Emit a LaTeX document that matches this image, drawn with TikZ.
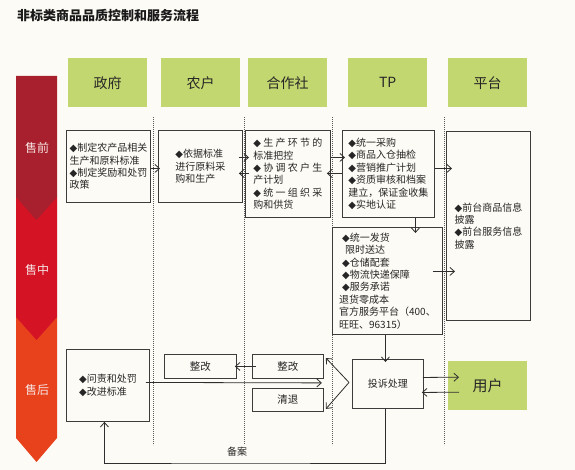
\documentclass[tikz,border=0pt]{standalone}
\usepackage{fontspec}
\setmainfont{Noto Sans CJK SC}
\newfontfamily\djv{DejaVu Sans}
\usetikzlibrary{arrows.meta,calc}
\definecolor{bg}{HTML}{FDFBF5}
\definecolor{boxc}{HTML}{3C3C3C}
\definecolor{linec}{HTML}{2E2E2E}
\definecolor{txt}{HTML}{262626}
\definecolor{green1}{HTML}{C3D770}
\definecolor{dred}{HTML}{A8202D}
\definecolor{red1}{HTML}{D41325}
\definecolor{orng}{HTML}{E8421D}
\definecolor{lbl}{HTML}{F6E4E2}
\newcommand\dm{{\djv ◆}}
\begin{document}
\begin{tikzpicture}[x=1pt,y=-1pt,
  box/.style={draw=boxc, line width=0.9pt, fill=bg, inner sep=0pt, anchor=north west, align=left, font=\fontsize{10}{12.4}\selectfont, text=txt},
  head/.style={fill=green1, anchor=north west, inner sep=0pt, minimum width=79pt, minimum height=49pt, font=\fontsize{14}{16}\selectfont, text=txt},
  arr/.style={draw=linec, line width=0.8pt, -{Straight Barb[length=4.5pt,width=8pt]}},
  lane/.style={draw=black!65, line width=0.6pt, dash pattern=on 0.8pt off 1.2pt},
  band/.style={text=lbl, font=\fontsize{12}{14}\selectfont}]
\fill[bg] (0,0) rectangle (575,470);
\useasboundingbox (0,0) rectangle (575,470);

% title
\node[anchor=west, inner sep=0pt, text=black!90, font=\fontsize{13}{15}\selectfont\bfseries] (title) at (17,16) {非标类商品品质控制和服务流程};

% left band
\fill[orng] (16,317) -- (57,317) -- (57,438) -- (36.5,462) -- (16,438) -- cycle;
\fill[red1] (16,197) -- (57,197) -- (57,317) -- (36.5,340) -- (16,317) -- cycle;
\fill[dred] (16,76) -- (57,76) -- (57,197) -- (36.5,220) -- (16,197) -- cycle;
\node[band] (s1) at (37,148) {售前};
\node[band] (s2) at (37,270) {售中};
\node[band] (s3) at (37,390) {售后};

% headers
\node[head] (h1) at (68,58) {政府};
\node[head] (h2) at (161,58) {农户};
\node[head] (h3) at (248,58) {合作社};
\node[head] (h4) at (348,58) {TP};
\node[head] (h5) at (448,58) {平台};

% lanes
\draw[lane] (153,117) -- (153,445);
\draw[lane] (244,117) -- (244,445);
\draw[lane] (332,117) -- (332,445);
\draw[lane] (444,117) -- (444,445);

% boxes
\node[box, minimum width=84pt, minimum height=72pt] (gov1) at (66,130)
  {\dm 制定农产品相关\\生产和原料标准\\\dm 制定奖励和处罚\\政策};
\node[box, minimum width=84pt, minimum height=72pt] (farm) at (158,130)
  {\dm 依据标准\\进行原料采\\购和生产};
\node[box, minimum width=85pt, minimum height=87pt] (coop) at (245,130)
  {\makebox[69pt][s]{\dm\ 生 产 环 节 的}\\标准把控\\\makebox[69pt][s]{\dm\ 协 调 农 户 生}\\产计划\\\makebox[69pt][s]{\dm\ 统 一 组 织 采}\\购和供货};
\node[box, minimum width=92pt, minimum height=87pt] (tp1) at (342,130)
  {\dm 统一采购\\\dm 商品入仓抽检\\\dm 营销推广计划\\\dm 资质审核和档案\\建立，保证金收集\\\dm 实地认证};
\node[box, minimum width=84pt, minimum height=189pt] (plat) at (446,131)
  {\dm 前台商品信息\\披露\\\dm 前台服务信息\\披露};
\node[box, minimum width=110pt, minimum height=107pt] (tp2) at (332,227)
  {\hspace*{3pt}\dm 统一发货\\\hspace*{6pt}限时送达\\\hspace*{3pt}\dm 仓储配套\\\hspace*{3pt}\dm 物流快递保障\\\hspace*{3pt}\dm 服务承诺\\退货零成本\\官方服务平台（400、\\旺旺、96315）};
\node[box, minimum width=83pt, minimum height=72pt] (gov2) at (66,349)
  {\dm 问责和处罚\\\dm 改进标准};
\node[box, minimum width=72pt, minimum height=24pt, font=\fontsize{10.5}{12}\selectfont] (zg1) at (164,354) {整改};
\node[box, minimum width=71pt, minimum height=24pt, font=\fontsize{10.5}{12}\selectfont] (zg2) at (252,354) {整改};
\node[box, minimum width=71pt, minimum height=23pt, font=\fontsize{10.5}{12}\selectfont] (qt) at (252,388) {清退};
\node[box, minimum width=71pt, minimum height=49pt] (ts) at (352,359) {投诉处理};
\node[head, minimum width=79pt, minimum height=49pt, font=\fontsize{15}{17}\selectfont] (user) at (448,361) {用户};

% connectors
\draw[arr] ([yshift=-2pt]gov1.east) -- ([yshift=-2pt,xshift=2pt]farm.west);
\draw[arr] ([xshift=-4pt,yshift=9pt]farm.east) -- ([xshift=4pt,yshift=16.5pt]coop.west);
\draw[arr] ([xshift=4pt,yshift=0.5pt]coop.west) -- ([xshift=-4pt,yshift=-7pt]farm.east);
\draw[arr] ([yshift=16.5pt]coop.east) -- ([xshift=3pt,yshift=16.5pt]tp1.west);
\draw[arr] ([yshift=0.5pt]tp1.west) -- ([xshift=-4pt,yshift=0.5pt]coop.east);
\draw[arr] ([yshift=5.5pt]tp1.east) -- ([xshift=6pt,yshift=57.5pt]plat.west);
\draw[arr] ([xshift=27pt]tp1.south) -- ([xshift=28pt,yshift=-6pt]tp2.north);
\draw[arr] ([xshift=-10pt,yshift=9.5pt]tp2.east) -- ([xshift=9pt,yshift=-45.5pt]plat.west);
\draw[arr] ([xshift=-2pt]tp2.south) -- ([xshift=-2.5pt,yshift=-3pt]ts.north);
\draw[arr] ([xshift=-1pt,yshift=6.5pt]ts.east) -- ([xshift=11pt,yshift=8.5pt]user.west);
\draw[arr] ([xshift=11pt,yshift=-6.5pt]user.west) -- ([xshift=-2pt,yshift=-8.5pt]ts.east);
\coordinate (v) at ([xshift=-3pt,yshift=1.5pt]ts.west);
\draw[arr] (v) -- ([xshift=2pt,yshift=-4pt]zg2.north east);
\draw[arr] (v) -- ([xshift=2pt,yshift=3pt]qt.south east);
\draw[arr] ([xshift=4pt]zg2.west) -- ([xshift=-2pt]zg1.east);
\draw[arr] ([xshift=-4pt,yshift=3pt]gov2.east) -- ([xshift=-2pt,yshift=-4pt]zg2.south east);
\coordinate (fb) at (237,463);
\draw[arr] ([xshift=-2.5pt]ts.south) |- (fb) -| ([xshift=-3.5pt]gov2.south);
\node[text=txt, font=\fontsize{10}{12}\selectfont] (ba) at (237,452) {备案};
\end{tikzpicture}
\end{document}
